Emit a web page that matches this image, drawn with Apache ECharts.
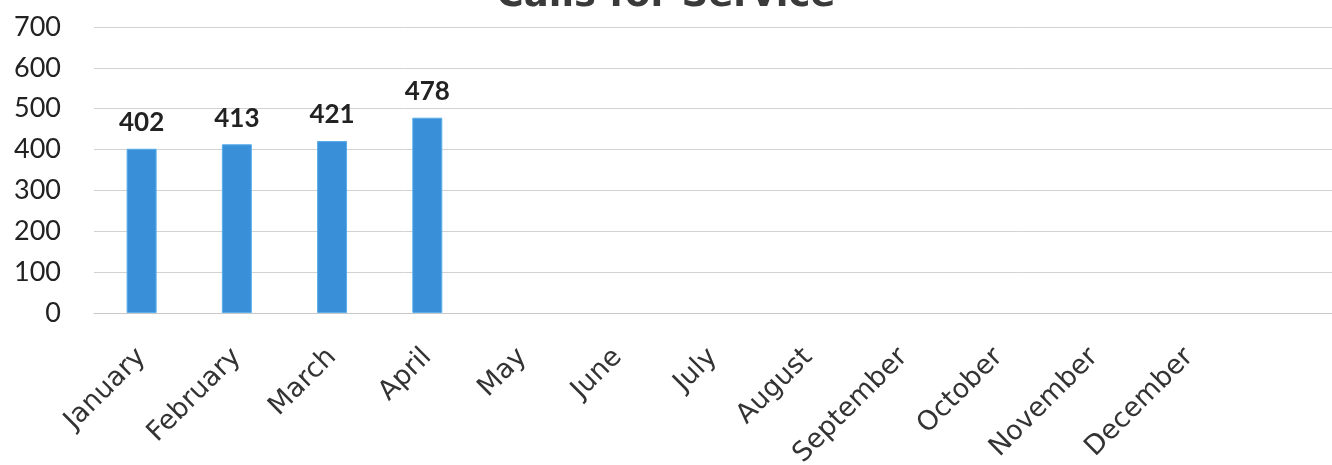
<!DOCTYPE html>
<html>
<head>
<meta charset="utf-8">
<script src="https://cdn.jsdelivr.net/npm/echarts@6/dist/echarts.min.js"></script>
<style>
  html, body { margin: 0; padding: 0; background: #fff; }
  #main { width: 1332px; height: 465px; }
</style>
</head>
<body>
<div id="main"></div>
<script>
// months on the x axis (last slot is an empty one, as in the original)
var months = ["January", "February", "March", "April", "May", "June", "July",
  "August", "September", "October", "November", "December", ""];
// calls per month, only Jan-Apr reported
var calls = [402, 413, 421, 478, null, null, null, null, null, null, null, null, null];
var yTicks = [0, 100, 200, 300, 400, 500, 600, 700];

var chart = echarts.init(document.getElementById("main"));
chart.setOption({
  animation: false,
  title: {
    text: "Calls for Service",
    left: "center",
    top: -27,
    textStyle: { fontFamily: "DejaVu Sans", fontWeight: "bold", fontSize: 37, color: "#3a3a3a" }
  },
  grid: { left: 94, right: 0, top: 27, bottom: 152, containLabel: false, outerBoundsMode: "none" },
  xAxis: {
    type: "category",
    data: months,
    axisTick: { show: false },
    axisLine: { lineStyle: { color: "#c8c8c8", width: 1 } },
    axisLabel: {
      rotate: 45,
      interval: 0,
      margin: 40,
      fontFamily: "DejaVu Sans",
      fontSize: 27,
      color: "#333",
      align: "right"
    }
  },
  yAxis: {
    type: "value",
    min: yTicks[0],
    max: yTicks[yTicks.length - 1],
    interval: 100,
    axisLine: { show: false },
    axisTick: { show: false },
    splitLine: { lineStyle: { color: "#d2d2d2", width: 1 } },
    axisLabel: { fontFamily: "Lato", fontSize: 27, color: "#222", margin: 33 }
  },
  series: [{
    type: "bar",
    data: calls,
    barWidth: 30,
    itemStyle: { color: "#3990d8", borderColor: "#5aaeea", borderWidth: 1 },
    label: {
      show: true,
      position: "top",
      distance: 13,
      fontFamily: "Lato",
      fontWeight: "bold",
      fontSize: 26,
      color: "#222"
    }
  }]
});
</script>
</body>
</html>
